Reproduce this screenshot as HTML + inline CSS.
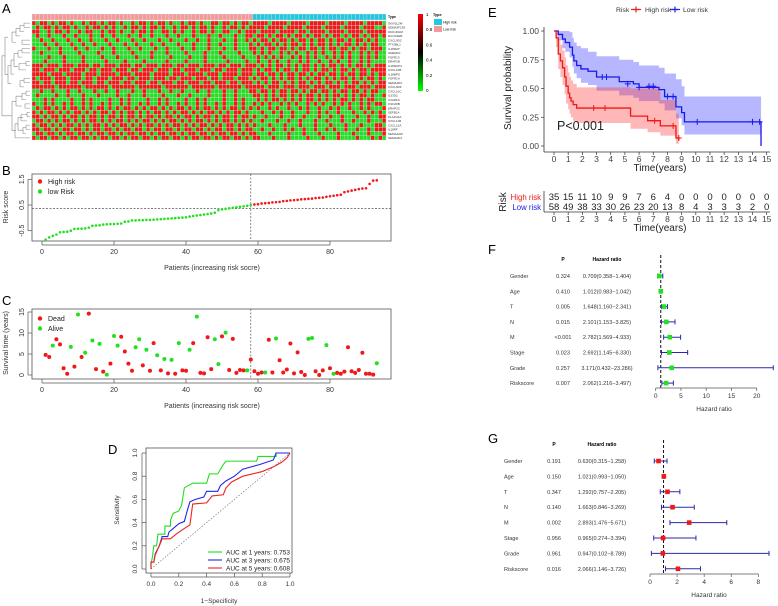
<!DOCTYPE html>
<html><head><meta charset="utf-8">
<style>
html,body{margin:0;padding:0;background:#fff;}
svg{display:block;font-family:"Liberation Sans",sans-serif;}
</style></head>
<body>
<svg id="chart" width="778" height="606" viewBox="0 0 778 606" xmlns="http://www.w3.org/2000/svg">
<text x="2" y="13" font-size="13">A</text>
<text x="2" y="175" font-size="13">B</text>
<text x="2" y="305" font-size="13">C</text>
<text x="108" y="454" font-size="13">D</text>
<text x="488" y="17" font-size="13">E</text>
<text x="488" y="254" font-size="13">F</text>
<text x="488" y="443" font-size="13">G</text>
</svg>
<script>
// ---------- data ----------
const heatRows = [
"1011010110100101101011010010110101101001011010011011010110111101111011110111101111011110111",
"0101101011010010110101001011010110100101101011010010110101111011110111101111011110111101110",
"1100101101001011001011010010110100110101001011010011001011101111011110110111101111011110111",
"0100100010010001001001000100100100010010001000100100010011011010110101101011010110101101011",
"0010010001001001000100100010010001001000100100100010010010101101011010110101101011010110101",
"0001001000100100100010001001000100100010001000100100010001010110101011010101101010110101011",
"1000100100010010001001000100100010010001001000100010010001101011011010110110101101101011011",
"0010000100001000010001000010000100010000100001000100001000101010010101001010100101010010101",
"0000100010000100001000100001000100001000010001000010000100010101010010101010010101010010101",
"0001000010000100000100001000010000010000100001000001000010010010100100101001001010010010100",
"1110111011101110110111011101101110111011011101110110111011101010110101011010101101010110101",
"1101110111011101101110111011011101110110111011101101110111010110101101011010110101101011011",
"1111011101111011101111011101111011110111011110111011110111011011010110110101101101011011010",
"1011101110111011011101110110111011101101110111011011101110101101010110101011010101101010110",
"1101101110110111011011101101110110111011011101101110110111010101101010110101011010101101010",
"1111110111111011111101111110111111011111101111110111111011111011101110111011101110111011101",
"0010010001001000100100100010010001001001000100100010010001101101011011010110110101101101011",
"0100001001000100010000100100010000100010010000100010010000110101011010101101010110101011010",
"0001010000100101000010010100001001010000100101000010010100010101101010101101010101101010110",
"1001010010100101001010010100101001010010100101001010010100101010010101001010100101010010101",
"0101101010110101011010101101010110101011010101101010110101010010100100101001001010010010100",
"1010110101011010101101010110101011010101101010110101011010001001010010001001010010001001010",
"1101011010110101101011010110101101011010110101101011010110100100010010010001001001000100100",
"0110101011010101101010110101011010101101010110101011010101001000100100100010010001001000100",
"1011010101101010110101011010101101010110101011010101101010100010001000100010001000100010001",
"1101101011011010110110101101101011011010110110101101101011001001001010010010010100100100101",
"0110110101101101011011010110110101101101011011010110110101100010000100010001000010001000100",
"1011011010110110101101101011011010110110101101101011011010110001000100001000100010000100010"
];
const geneNames = ["SKIV2L2M","SEMA3F138","DKK1DGM","DUOX2EB","CXCL9D2","PTX3BL1","IL18R2P","GREM1F","FGFR13","ERAP2B","IL18RAP4","CXCL10B","IL18BPS","FGFR1A","SEMA4D2","CXCL9DF","CXCL10C","IL33D2","C3AR1S","CSF2RB","ERAP2C","SEFB1A","PLA2G2A","CXCL11B","CXCL12A","IL18RF","SEMA4AW","SEMA4D4"];

const riskScore = [-0.85,-0.76,-0.7,-0.65,-0.56,-0.55,-0.54,-0.5,-0.43,-0.42,-0.42,-0.41,-0.38,-0.31,-0.3,-0.29,-0.26,-0.25,-0.24,-0.24,-0.23,-0.22,-0.15,-0.14,-0.1,-0.1,-0.09,-0.09,-0.08,-0.08,-0.07,-0.06,-0.05,-0.04,-0.03,-0.02,-0.01,0.0,0.01,0.02,0.05,0.07,0.09,0.11,0.13,0.15,0.17,0.2,0.3,0.33,0.35,0.37,0.39,0.41,0.43,0.45,0.47,0.5,0.52,0.53,0.56,0.57,0.58,0.6,0.61,0.62,0.65,0.66,0.68,0.69,0.7,0.72,0.73,0.74,0.75,0.77,0.78,0.79,0.82,0.84,0.86,0.88,0.9,1.0,1.03,1.06,1.09,1.12,1.14,1.15,1.32,1.45,1.46];
const riskCut = 0.36;
const splitIndex = 58;

const survTime = [4.8,4.3,7.0,8.5,7.3,1.6,0.3,6.7,2.0,14.4,4.3,5.3,14.6,8.2,1.4,7.4,0.8,0.1,2.7,9.3,7.0,9.1,5.6,2.7,1.0,6.6,8.5,2.3,6.0,1.0,7.6,4.7,1.1,3.8,0.4,3.6,0.3,7.6,1.1,1.0,6.0,7.6,13.9,0.5,0.4,9.0,1.4,8.5,2.6,9.2,10.1,1.2,8.6,0.5,1.2,1.1,1.1,3.7,0.9,0.3,0.6,0.6,8.4,0.6,8.7,3.5,0.6,1.3,7.5,0.4,5.4,0.7,0.0,8.6,8.8,0.9,0.0,1.1,7.1,1.6,0.3,0.5,0.3,0.8,6.6,0.9,0.5,1.2,5.3,0.3,0.3,0.1,2.8];
const survStatus = "rrgrrrrgrgrgrgrgrgrggrrrrggrgrrgrgrgrgrrgrgrrrrggrgrrrrrgrrrrgrrgrrrrrrrrggrrrgrgrrrrrrrrrrrg";

const rocGreenX = [0,0,0.01,0.02,0.04,0.05,0.1,0.1,0.14,0.14,0.16,0.2,0.22,0.24,0.3,0.4,0.42,0.48,0.5,0.52,0.54,0.76,0.77,0.9,0.9,1];
const rocGreenY = [0,0.05,0.1,0.2,0.2,0.3,0.3,0.37,0.37,0.42,0.48,0.5,0.55,0.7,0.74,0.74,0.82,0.82,0.86,0.9,0.93,0.93,0.97,0.97,1,1];
const rocBlueX = [0,0,0.02,0.03,0.06,0.08,0.12,0.13,0.16,0.2,0.24,0.26,0.28,0.32,0.38,0.4,0.48,0.5,0.54,0.6,0.62,0.66,0.78,0.88,0.9,1];
const rocBlueY = [0,0.06,0.06,0.13,0.2,0.28,0.28,0.32,0.35,0.39,0.41,0.5,0.58,0.6,0.62,0.67,0.67,0.72,0.76,0.8,0.82,0.86,0.9,0.94,1,1];
const rocRedX = [0,0,0.02,0.03,0.06,0.08,0.14,0.18,0.24,0.28,0.3,0.4,0.44,0.52,0.54,0.58,0.66,0.8,0.88,0.94,0.98,1];
const rocRedY = [0,0.06,0.06,0.12,0.2,0.26,0.26,0.3,0.35,0.38,0.56,0.57,0.63,0.64,0.7,0.75,0.8,0.84,0.88,0.92,0.96,1];
const rocLabels = ["AUC at 1 years: 0.753","AUC at 3 years: 0.675","AUC at 5 years: 0.608"];

const kmHighT = [0,0.15,0.3,0.45,0.6,0.75,0.85,1.0,1.1,1.2,1.35,1.6,5.4,6.6,7.5,8.6,8.8];
const kmHighS = [1,0.94,0.8,0.74,0.68,0.6,0.52,0.46,0.42,0.39,0.36,0.33,0.26,0.22,0.175,0.07,0.07];
const kmHighU = [1,1,0.93,0.88,0.83,0.77,0.7,0.64,0.6,0.57,0.54,0.51,0.5,0.5,0.4,0.28,0.28];
const kmHighL = [1,0.86,0.67,0.6,0.53,0.45,0.37,0.32,0.28,0.25,0.22,0.2,0.15,0.12,0.09,0.02,0.02];
const kmLowT = [0,0.3,0.6,0.8,1.1,1.3,1.4,1.6,1.9,2.4,3.0,4.6,5.6,6.0,7.4,7.8,8.6,9.0,9.2,14.6];
const kmLowS = [1,0.97,0.93,0.9,0.86,0.79,0.74,0.7,0.67,0.65,0.6,0.56,0.54,0.51,0.49,0.43,0.34,0.29,0.21,0.21];
const kmLowU = [1,1,1,1,0.99,0.94,0.9,0.87,0.85,0.82,0.78,0.75,0.73,0.7,0.68,0.63,0.58,0.52,0.43,0.43];
const kmLowL = [1,0.92,0.85,0.82,0.77,0.69,0.63,0.59,0.55,0.53,0.48,0.44,0.42,0.39,0.37,0.31,0.24,0.18,0.1,0.1];
const censorHighT = [2.8,3.6,7.1,8.4,8.8];
const censorHighS = [0.33,0.33,0.22,0.175,0.07];
const censorLowT = [3.4,3.7,5.2,6.0,6.7,7.0,8.0,8.4,10.1,14.0,14.5];
const censorLowS = [0.6,0.6,0.54,0.51,0.52,0.52,0.43,0.43,0.21,0.21,0.21];
const riskHigh = [35,15,11,10,9,9,7,6,4,0,0,0,0,0,0,0];
const riskLow = [58,49,38,33,30,26,23,20,13,8,4,3,3,3,2,0];

const coxVars = ["Gender","Age","T","N","M","Stage","Grade","Riskscore"];
const uniP = ["0.324","0.410","0.005","0.015","<0.001","0.023","0.257","0.007"];
const uniHR = [0.709,1.012,1.648,2.101,2.782,2.692,3.171,2.062];
const uniLo = [0.358,0.983,1.160,1.153,1.569,1.145,0.432,1.216];
const uniHi = [1.404,1.042,2.341,3.825,4.933,6.330,23.286,3.497];
const multiP = ["0.191","0.150","0.347","0.140","0.002","0.956","0.961","0.016"];
const multiHR = [0.630,1.021,1.292,1.663,2.893,0.965,0.947,2.066];
const multiLo = [0.315,0.993,0.757,0.846,1.476,0.274,0.102,1.146];
const multiHi = [1.258,1.050,2.205,3.269,5.671,3.394,8.789,3.726];

// ---------- helpers ----------
const NS = "http://www.w3.org/2000/svg";
const svg = document.getElementById('chart');
function mk(tag, attrs, parent){const e=document.createElementNS(NS,tag);for(const k in attrs)e.setAttribute(k,attrs[k]);(parent||svg).appendChild(e);return e;}
function tx(x,y,s,attrs,parent){const e=mk('text',Object.assign({x:x,y:y},attrs||{}),parent);e.textContent=s;return e;}
function grp(){return mk('g',{});}
const RED="#f01818", GREEN="#22e022";

// ---------- Panel A heatmap ----------
const gA = grp();


const hx0=32,hx1=386,hy0=21,hy1=140, nC=93, nR=heatRows.length;
const cw=(hx1-hx0)/nC, ch=(hy1-hy0)/nR;
for(let c=0;c<nC;c++){
  const a=mk('rect',{x:hx0+c*cw,y:14,width:cw,height:6,fill:c<splitIndex?"#f29a9a":"#22c8dc",stroke:"#e8e8e8","stroke-width":0.3},gA);
  
  
}
for(let r=0;r<nR;r++){
  const row=heatRows[r];
  for(let c=0;c<nC;c++){
    const v=row[c%row.length]==='1';
    const cell=mk('rect',{x:hx0+c*cw,y:hy0+r*ch,width:cw,height:ch,fill:v?RED:GREEN,stroke:"#d8d8d8","stroke-width":0.35},gA);
    
    
  }
  const gl=tx(388,hy0+r*ch+ch*0.8,geneNames[r],{"font-size":3,fill:"#333"},gA);
  
  
}
const tl=tx(388,18,"Type",{"font-size":3.5,"font-weight":"bold"},gA);


// dendrogram
const dend=grp();


const rc=i=>hy0+(i+0.5)*ch;
const dl=[[30,0,1,24],[24,0.5,2,20],[20,1.25,3,16],[30,4,5,22],[16,2.1,4.5,12],[30,6,7,22],[22,6.5,8,18],[30,9,10,26],[26,9.5,11,19],[18,7.2,10.2,14],[14,8.7,12,11],[30,13,14,24],[24,13.5,15,20],[11,10,14.2,8],[8,3.3,12.1,5],
[30,16,17,26],[26,16.5,18,22],[30,19,20,25],[22,17.2,19.5,16],[30,21,22,27],[27,21.5,23,21],[30,24,25,26],[26,24.5,26,23],[23,22.2,25.2,18],[30,27,27,18],[18,23.7,27,15],[16,18.4,25.3,12],[12,21.8,21.8,5],[5,7.7,21.8,2]];
dl.forEach(d=>{const [x,a,b,xp]=d;mk('path',{d:`M${x} ${rc(a)}H${xp}M${x} ${rc(b)}H${xp}M${xp} ${rc(a)}V${rc(b)}`,stroke:"#888",fill:"none","stroke-width":0.6},dend);});
// colorbar
const defs=mk('defs',{});
const lg=mk('linearGradient',{id:"cb",x1:0,y1:1,x2:0,y2:0},defs);
mk('stop',{offset:0,"stop-color":"#00ff00"},lg);mk('stop',{offset:0.5,"stop-color":"#000"},lg);mk('stop',{offset:1,"stop-color":"#ff0000"},lg);
const cb=mk('rect',{x:418,y:14,width:5,height:77,fill:"url(#cb)"});


["1","0.8","0.6","0.4","0.2","0"].forEach((s,i)=>{const t=tx(426,16+i*15.2,s,{"font-size":4.5});});
const tyl=tx(433,16,"Type",{"font-size":3.8,"font-weight":"bold"});


const lh=mk('rect',{x:434,y:19,width:8,height:6,fill:"#22c8dc"});


const lhl=tx(443,23.5,"High risk",{"font-size":3.5});


const ll=mk('rect',{x:434,y:26,width:8,height:6,fill:"#f29a9a"});


const lll=tx(443,30.5,"Low risk",{"font-size":3.5});



// ---------- Panel B & C ----------
const xP=i=>42+i*3.6;
function frameBC(y0,y1,name){
  const r=mk('rect',{x:32,y:y0,width:359,height:y1-y0,fill:"none",stroke:"#555","stroke-width":0.8});
  
  
  [0,20,40,60,80].forEach(v=>{
    mk('line',{x1:xP(v),x2:xP(v),y1:y1,y2:y1+4,stroke:"#555","stroke-width":0.7});
    const t=tx(xP(v),y1+13,String(v),{"font-size":7,"text-anchor":"middle",fill:"#333"});
    
    
  });
  mk('line',{x1:xP(0),x2:xP(80),y1:y1+4,y2:y1+4,stroke:"#555","stroke-width":0.7});
  const xl=tx(212,y1+29,"Patients (increasing risk socre)",{"font-size":7,"text-anchor":"middle",fill:"#333"});
  
  
  mk('line',{x1:xP(splitIndex),x2:xP(splitIndex),y1:y0,y2:y1,stroke:"#555","stroke-width":0.7,"stroke-dasharray":"2,1.5"});
}
const yB=v=>205-(v-0.5)*25.7;
frameBC(174,241,'risk-score');
[-0.5,0.5,1.5].forEach(v=>{
  mk('line',{x1:28,x2:32,y1:yB(v),y2:yB(v),stroke:"#555","stroke-width":0.7});
  const t=tx(0,0,String(v),{"font-size":7,"text-anchor":"middle",fill:"#333",transform:`translate(24,${yB(v)}) rotate(-90)`});
  
  
});
mk('line',{x1:28,x2:28,y1:yB(-0.5),y2:yB(1.5),stroke:"#555","stroke-width":0.7});
const byl=tx(0,0,"Risk score",{"font-size":7,"text-anchor":"middle",fill:"#333",transform:"translate(8,207) rotate(-90)"});


mk('line',{x1:32,x2:391,y1:yB(riskCut),y2:yB(riskCut),stroke:"#555","stroke-width":0.7,"stroke-dasharray":"2,1.5"});
riskScore.forEach((v,i)=>{
  const c=mk('circle',{cx:xP(i+1),cy:yB(v),r:1.3,fill:i+1>splitIndex?RED:GREEN});
  
  
});
[["High risk",RED,184],["low Risk",GREEN,194]].forEach(d=>{
  const c=mk('circle',{cx:40,cy:d[2]-2.5,r:2.2,fill:d[1]});
  
  
  const t=tx(48,d[2],d[0],{"font-size":7,fill:"#222"});
  
  
});

const yC=v=>375-v*4.2;
frameBC(309,379,'survival-time');
[0,5,10,15].forEach(v=>{
  mk('line',{x1:28,x2:32,y1:yC(v),y2:yC(v),stroke:"#555","stroke-width":0.7});
  const t=tx(0,0,String(v),{"font-size":7,"text-anchor":"middle",fill:"#333",transform:`translate(24,${yC(v)}) rotate(-90)`});
  
  
});
mk('line',{x1:28,x2:28,y1:yC(0),y2:yC(15),stroke:"#555","stroke-width":0.7});
const cyl=tx(0,0,"Survival time (years)",{"font-size":7,"text-anchor":"middle",fill:"#333",transform:"translate(8,343) rotate(-90)"});


survTime.forEach((v,i)=>{
  const c=mk('circle',{cx:xP(i+1),cy:yC(v),r:2,fill:survStatus[i]==='g'?GREEN:RED});
  
  
});
[["Dead",RED,321],["Alive",GREEN,331]].forEach(d=>{
  const c=mk('circle',{cx:40,cy:d[2]-2.5,r:2.2,fill:d[1]});
  
  
  const t=tx(48,d[2],d[0],{"font-size":7,fill:"#222"});
  
  
});

// ---------- Panel D ROC ----------
const xD=f=>151+f*139, yD=s=>569-s*116;
const fr=mk('rect',{x:146,y:448,width:146,height:125,fill:"none",stroke:"#555","stroke-width":0.8});


[0,0.2,0.4,0.6,0.8,1].forEach(v=>{
  mk('line',{x1:xD(v),x2:xD(v),y1:573,y2:577,stroke:"#555","stroke-width":0.7});
  const t=tx(xD(v),586,v.toFixed(1),{"font-size":6.5,"text-anchor":"middle",fill:"#333"});
  
  
  mk('line',{x1:142,x2:146,y1:yD(v),y2:yD(v),stroke:"#555","stroke-width":0.7});
  const u=tx(0,0,v.toFixed(1),{"font-size":6.5,"text-anchor":"middle",fill:"#333",transform:`translate(137,${yD(v)}) rotate(-90)`});
  
  
});
mk('line',{x1:xD(0),x2:xD(1),y1:577,y2:577,stroke:"#555","stroke-width":0.7});
mk('line',{x1:142,x2:142,y1:yD(0),y2:yD(1),stroke:"#555","stroke-width":0.7});
const dxl=tx(219,603,"1\u2212Specificity",{"font-size":6.5,"text-anchor":"middle",fill:"#333"});


const dyl=tx(0,0,"Sensitivity",{"font-size":6.5,"text-anchor":"middle",fill:"#333",transform:"translate(119,510) rotate(-90)"});


mk('line',{x1:xD(0),y1:yD(0),x2:xD(1),y2:yD(1),stroke:"#666","stroke-width":0.6,"stroke-dasharray":"1.5,1.5"});
[[rocGreenX,rocGreenY,"#22dd22"],[rocBlueX,rocBlueY,"#2222ee"],[rocRedX,rocRedY,"#ee2222"]].forEach((s,k)=>{
  const p=mk('polyline',{points:s[0].map((x,i)=>xD(x)+","+yD(s[1][i])).join(" "),fill:"none",stroke:s[2],"stroke-width":1.1});
  
  
  const y=552+k*8;
  mk('line',{x1:208,x2:222,y1:y,y2:y,stroke:s[2],"stroke-width":1.1});
  const t=tx(226,y+2.3,rocLabels[k],{"font-size":6.5,fill:"#222"});
  
  
});

// ---------- Panel E KM ----------
const xE=t=>554+t*14.18, yE=s=>146-s*115;
const eL=[["Risk",616],["High risk",645],["Low risk",683]];
eL.forEach(d=>{const t=tx(d[1],12,d[0],{"font-size":6.8,fill:"#333"});});
[[631,"#f02020"],[670,"#2020f0"]].forEach(d=>{
  const g=grp();
  
  
  mk('line',{x1:d[0],x2:d[0]+10,y1:9.5,y2:9.5,stroke:d[1],"stroke-width":1.2},g);
  mk('path',{d:`M${d[0]+5} 6.5V12.5M${d[0]+2} 9.5H${d[0]+8}`,stroke:d[1],"stroke-width":1.2},g);
});
function stepPath(T,S,tEnd){let d=`M${xE(T[0])} ${yE(S[0])}`;for(let i=1;i<T.length;i++){d+=`H${xE(T[i])}V${yE(S[i])}`;}if(tEnd!==undefined)d+=`H${xE(tEnd)}`;return d;}
function band(T,U,L){let d=`M${xE(T[0])} ${yE(U[0])}`;for(let i=1;i<T.length;i++)d+=`H${xE(T[i])}V${yE(U[i])}`;for(let i=T.length-1;i>0;i--)d+=`V${yE(L[i])}H${xE(T[i])}`;d+=`V${yE(L[0])}H${xE(T[0])}Z`;return d;}
const bl=mk('path',{d:band(kmLowT,kmLowU,kmLowL),fill:"#3030ff",opacity:0.35});


const bh=mk('path',{d:band(kmHighT,kmHighU,kmHighL),fill:"#ff3030",opacity:0.35});


const cl=mk('path',{d:stepPath(kmLowT,kmLowS)+`V${yE(0)}`,fill:"none",stroke:"#1818ee","stroke-width":1.3});


const chh=mk('path',{d:stepPath(kmHighT,kmHighS)+`V${yE(0.05)}`,fill:"none",stroke:"#ee1818","stroke-width":1.3});


function cens(T,S,col,name){T.forEach((t,i)=>{const p=mk('path',{d:`M${xE(t)} ${yE(S[i])-3}v6M${xE(t)-3} ${yE(S[i])}h6`,stroke:col,"stroke-width":1});});}
cens(censorHighT,censorHighS,"#ee1818",'km-high-risk-censor');
cens(censorLowT,censorLowS,"#1818ee",'km-low-risk-censor');
mk('line',{x1:544,x2:544,y1:yE(1)-4,y2:152,stroke:"#333","stroke-width":0.8});
mk('line',{x1:544,x2:770,y1:152,y2:152,stroke:"#333","stroke-width":0.8});
[0,0.25,0.5,0.75,1].forEach(v=>{
  mk('line',{x1:541,x2:544,y1:yE(v),y2:yE(v),stroke:"#333","stroke-width":0.7});
  const t=tx(539,yE(v)+3,v.toFixed(2),{"font-size":8.5,"text-anchor":"end",fill:"#444"});
  
  
});
for(let v=0;v<=15;v++){
  mk('line',{x1:xE(v),x2:xE(v),y1:152,y2:155,stroke:"#333","stroke-width":0.7});
  const t=tx(xE(v),162,String(v),{"font-size":8.5,"text-anchor":"middle",fill:"#444"});
  
  
  mk('line',{x1:xE(v),x2:xE(v),y1:212,y2:215,stroke:"#333","stroke-width":0.7});
  const u=tx(xE(v),222,String(v),{"font-size":8.5,"text-anchor":"middle",fill:"#444"});
  
  
  const a=tx(xE(v),200,String(riskHigh[v]),{"font-size":9.5,"text-anchor":"middle",fill:"#222"});
  
  
  const b=tx(xE(v),210,String(riskLow[v]),{"font-size":9.5,"text-anchor":"middle",fill:"#222"});
  
  
}
const ekx=tx(660,171,"Time(years)",{"font-size":10,"text-anchor":"middle",fill:"#222"});


const eky=tx(0,0,"Survival probability",{"font-size":10,"text-anchor":"middle",fill:"#222",transform:"translate(511,88) rotate(-90)"});


const pv=tx(557,130,"P<0.001",{"font-size":12.5,fill:"#222"});


mk('line',{x1:544,x2:544,y1:191,y2:212,stroke:"#333","stroke-width":0.8});
mk('line',{x1:544,x2:770,y1:212,y2:212,stroke:"#333","stroke-width":0.8});
const rh=tx(541,200,"High risk",{"font-size":7.8,"text-anchor":"end",fill:"#ee1818"});


const rl=tx(541,210,"Low risk",{"font-size":7.8,"text-anchor":"end",fill:"#1818ee"});


const rt=tx(0,0,"Risk",{"font-size":10,"text-anchor":"middle",fill:"#222",transform:"translate(506,202) rotate(-90)"});


const rtx=tx(660,231,"Time(years)",{"font-size":10,"text-anchor":"middle",fill:"#222"});



// ---------- Forest plots ----------
function forest(o){
  const X=h=>o.x0+h*o.sc;
  const hp=tx(o.pX,o.hdrY,"P",{"font-size":5,"font-weight":"bold","text-anchor":"middle"});
  
  
  const hh=tx(o.hrX,o.hdrY,"Hazard ratio",{"font-size":5,"font-weight":"bold","text-anchor":"middle"});
  
  
  const yR=i=>o.r0+i*o.rs;
  mk('line',{x1:X(1),x2:X(1),y1:o.hdrY-6,y2:o.axY,stroke:"#111","stroke-width":1,"stroke-dasharray":"3,2"});
  coxVars.forEach((v,i)=>{
    const y=yR(i);
    const a=tx(o.lblX,y+2,v,{"font-size":5.5,fill:"#333"});
    
    
    const b=tx(o.pX,y+2,o.P[i],{"font-size":5.5,fill:"#333","text-anchor":"middle"});
    
    
    const c=tx(o.hrX,y+2,o.HR[i].toFixed(3)+"("+o.LO[i].toFixed(3)+"\u2212"+o.HI[i].toFixed(3)+")",{"font-size":5.5,fill:"#333","text-anchor":"middle"});
    
    
    const g=mk('path',{d:`M${X(o.LO[i])} ${y}H${X(o.HI[i])}M${X(o.LO[i])} ${y-2.5}v5M${X(o.HI[i])} ${y-2.5}v5`,stroke:"#2a2aa8","stroke-width":1,fill:"none"});
    
    
    const s=mk('rect',{x:X(o.HR[i])-2.3,y:y-2.3,width:4.6,height:4.6,fill:o.col});
    
    
  });
  mk('line',{x1:X(0),x2:X(o.ticks[o.ticks.length-1]),y1:o.axY,y2:o.axY,stroke:"#555","stroke-width":0.7});
  o.ticks.forEach(t=>{
    mk('line',{x1:X(t),x2:X(t),y1:o.axY,y2:o.axY+3,stroke:"#555","stroke-width":0.7});
    const l=tx(X(t),o.axY+10,String(t),{"font-size":6.5,"text-anchor":"middle",fill:"#333"});
    
    
  });
  const xt=tx(o.ttlX,o.axY+23,"Hazard ratio",{"font-size":6.5,"text-anchor":"middle",fill:"#333"});
  
  
}
forest({name:'univariate-forest',x0:655.7,sc:5.05,hdrY:261,r0:276,rs:15.3,lblX:510,pX:563,hrX:607,axY:388,ticks:[0,5,10,15,20],ttlX:714,P:uniP,HR:uniHR,LO:uniLo,HI:uniHi,col:"#22e022"});
forest({name:'multivariate-forest',x0:650,sc:13.54,hdrY:446,r0:461,rs:15.4,lblX:504,pX:554,hrX:602,axY:574,ticks:[0,2,4,6,8],ttlX:709,P:multiP,HR:multiHR,LO:multiLo,HI:multiHi,col:"#f01818"});
</script>
</body></html>
